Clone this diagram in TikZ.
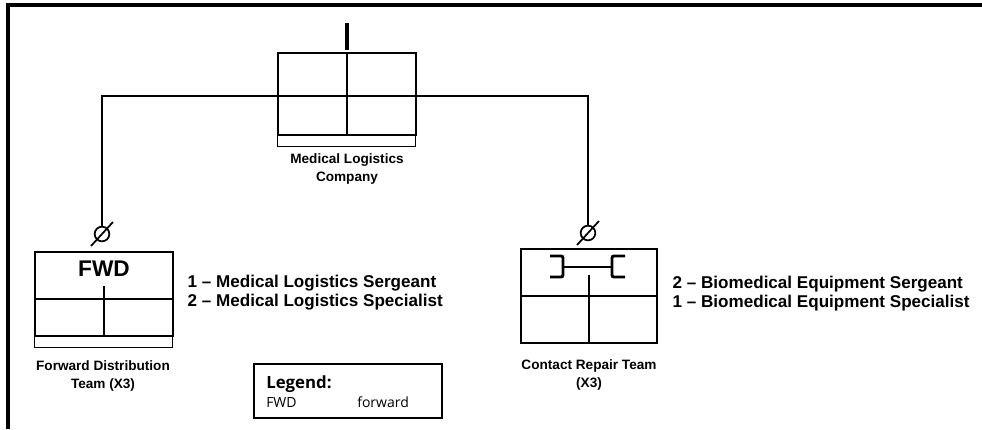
\documentclass[tikz,border=0pt]{standalone}
\usepackage{fontspec}
\setmainfont{Liberation Sans}
\newfontfamily\legendfont{Open Sans}
\usetikzlibrary{calc}
\tikzset{
	unitbox/.style={draw, line width=1.1pt, inner sep=0pt},
	link/.style={line width=2.2pt},
	diamark/.style={draw, circle, line width=1.3pt, minimum size=11pt, inner sep=0pt},
	lbl/.style={font=\bfseries\fontsize{10.2}{13.5}\selectfont, align=center},
	roster/.style={font=\bfseries\fontsize{12.8}{14.3}\selectfont, align=left, anchor=west},
}

\begin{document}
\begin{tikzpicture}[x=0.75pt, y=-0.75pt]
		%%%%% START %%%%%
		\useasboundingbox (0, 0) rectangle (982, 429);
		\draw[line width=2.3pt] (8, 429) -- (8, 5) -- (982, 5);
		
		% company
		\node[unitbox, minimum width=103.5pt, minimum height=61.5pt] (hq) at (347, 94) {};
		\draw[line width=1.1pt] (hq.south west) rectangle ++(138, 11);
		\draw[line width=1.1pt] (hq.west) ++(0, 2) -- ++(138, 0);
		\draw[line width=1.1pt] (hq.north) -- (hq.south);
		\draw[line width=3pt] (hq.north) ++(0, -2) -- ++(0, -27);
		\node[lbl] (hqlbl) at (347, 169) {Medical Logistics\\Company};
		
		% forward distribution team
		\node[unitbox, minimum width=103.5pt, minimum height=63pt] (fdt) at (104, 294) {};
		\draw[line width=1.1pt] (fdt.south west) rectangle ++(138, 11);
		\draw[line width=1.1pt] (fdt.west) ++(0, 5) -- ++(138, 0);
		\draw[line width=1.1pt] (fdt.south) -- ++(0, -51);
		\node[font=\bfseries\fontsize{17}{17}\selectfont] (fwd) at (104, 269) {FWD};
		\node[lbl] (fdtlbl) at (103, 376) {Forward Distribution\\Team (X3)};
		\node[roster] (fdtroster) at (183, 293) {1 -- Medical Logistics Sergeant\\2 -- Medical Logistics Specialist};
		
		% contact repair team
		\node[unitbox, minimum width=102pt, minimum height=70.5pt] (crt) at (589, 296) {};
		\draw[line width=1.1pt] (crt.west) -- (crt.east);
		\draw[line width=1.1pt] (crt.south) -- ++(0, -69);
		\draw[line width=2.2pt, rounded corners=1.5pt] (550, 256) -- (563, 256) -- (563, 277) -- (550, 277);
		\draw[line width=2.2pt, rounded corners=1.5pt] (625, 256) -- (612, 256) -- (612, 277) -- (625, 277);
		\draw[line width=2.2pt] (563, 267) -- (612, 267);
		\node[lbl] (crtlbl) at (589, 375) {Contact Repair Team\\(X3)};
		\node[roster] (crtroster) at (668, 294) {2 -- Biomedical Equipment Sergeant\\1 -- Biomedical Equipment Specialist};
		
		% links
		\node[diamark] (fdtmark) at (102, 234) {};
		\draw[line width=1.3pt] (fdtmark.center) ++(-11, 12) -- ++(22, -24);
		\node[diamark] (crtmark) at (588, 233) {};
		\draw[line width=1.3pt] (crtmark.center) ++(-11, 12) -- ++(22, -24);
		\draw[link] (hq.west) ++(0, 2) -| (fdtmark.north);
		\draw[link] (hq.east) ++(0, 2) -| (crtmark.north);
		
		% legend
		\node[draw, line width=1pt, minimum width=141pt, minimum height=40.5pt] (legend) at (348, 391) {};
		\node[anchor=base west, font=\legendfont\bfseries\fontsize{12.6}{12.6}\selectfont, inner sep=0pt] (legendhead) at (266, 388) {Legend:};
		\node[anchor=base west, font=\legendfont\fontsize{10.5}{10.5}\selectfont, inner sep=0pt] (legendabbr) at (266, 407) {FWD};
		\node[anchor=base west, font=\legendfont\fontsize{10.5}{10.5}\selectfont, inner sep=0pt] (legenddef) at (357, 407) {forward};
		%%%%% END %%%%%
\end{tikzpicture}
\end{document}
